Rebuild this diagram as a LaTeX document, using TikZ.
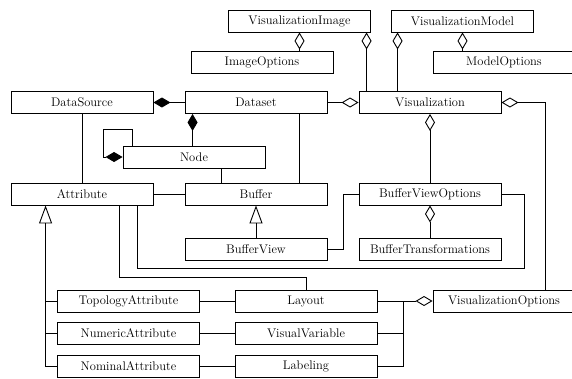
\documentclass[tikz,border=0pt]{standalone}
\usetikzlibrary{arrows.meta,calc}
\begin{document}
\begin{tikzpicture}[x=1pt,y=-1pt,line width=0.9pt,
  cls/.style={draw,rectangle,minimum width=142pt,minimum height=22pt,inner sep=0pt,
    font=\fontsize{12.5}{14}\selectfont},
  aggr/.style={-{Diamond[open,length=17pt,width=10pt]}},
  compo/.style={-{Diamond[length=17pt,width=10pt]}},
  gen/.style={-{Triangle[open,length=18pt,width=13pt]}}]
\path[use as bounding box,clip] (0,0) rectangle (572,378);
% classes
\node[cls] (VI) at (299.5,21) {VisualizationImage};
\node[cls] (VM) at (462.5,21) {VisualizationModel};
\node[cls] (IO) at (262,62) {ImageOptions};
\node[cls] (MO) at (504,62) {ModelOptions};
\node[cls] (DS) at (82,102.5) {DataSource};
\node[cls] (DT) at (256,102.5) {Dataset};
\node[cls] (VZ) at (430,102.5) {Visualization};
\node[cls] (ND) at (194,157) {Node};
\node[cls] (AT) at (82,194) {Attribute};
\node[cls] (BF) at (256,194) {Buffer};
\node[cls] (BVO) at (430,194) {BufferViewOptions};
\node[cls] (BV) at (256,249) {BufferView};
\node[cls] (BT) at (430,249) {BufferTransformations};
\node[cls] (TA) at (128.5,301) {TopologyAttribute};
\node[cls] (LY) at (306,301) {Layout};
\node[cls] (VO) at (504,301) {VisualizationOptions};
\node[cls] (NA) at (128.5,333.5) {NumericAttribute};
\node[cls] (VV) at (306,333.5) {VisualVariable};
\node[cls] (NO) at (128.5,366) {NominalAttribute};
\node[cls] (LB) at (306,366) {Labeling};
% top aggregations
\draw[aggr] (IO.north -| VI.south) -- (VI.south);
\draw[aggr] ([xshift=8pt]VZ.north west) -- ([xshift=8pt]VZ.north west |- VI.south);
\draw[aggr] ([xshift=39pt]VZ.north west) -- ([xshift=39pt]VZ.north west |- VM.south);
\draw[aggr] (MO.north -| VM.south) -- (VM.south);
% dataset relations
\draw[compo] (DT.west) -- (DS.east);
\draw[aggr] (DT.east) -- (VZ.west);
\draw[compo] ([xshift=8pt]DT.south west |- ND.north) -- ([xshift=8pt]DT.south west);
\draw[compo] ([xshift=10pt]ND.north west) -- ++(0,-16) -- ++(-29,0) |- (ND.west);
\draw (DS.south) -- (AT.north);
\draw ([xshift=99pt]ND.south west) -- ([xshift=99pt]ND.south west |- BF.north);
\draw ([xshift=-28pt]DT.south east) -- ([xshift=-28pt]DT.south east |- BF.north);
\draw (AT.east) -- (BF.west);
% visualization
\draw[aggr] (BVO.north) -- (VZ.south);
\draw[aggr] ([xshift=113pt]VO.north west) |- (VZ.east);
\draw[aggr] (BT.north) -- (BVO.south);
% buffer
\draw[gen] (BV.north) -- (BF.south);
\draw (BV.east) -- ++(16,0) |- (BVO.west);
% attribute
\coordinate (gA) at ([xshift=35pt]AT.south west);
\draw[gen] (NO.west) -| (gA);
\draw (TA.west) -- (TA.west -| gA);
\draw (NA.west) -- (NA.west -| gA);
\draw ([xshift=109pt]AT.south west) -- ++(0,72) -| (LY.north);
\draw ([xshift=127pt]AT.south west) -- ++(0,63) -| ([xshift=23pt]BVO.east) -- (BVO.east);
% bottom
\draw (TA.east) -- (LY.west);
\draw (NA.east) -- (VV.west);
\draw (NO.east) -- (LB.west);
\draw[aggr] (LY.east) -- (VO.west);
\draw (VV.east) -- ++(26,0);
\draw (LB.east) -| ([xshift=26pt]LY.east);
\end{tikzpicture}
\end{document}
